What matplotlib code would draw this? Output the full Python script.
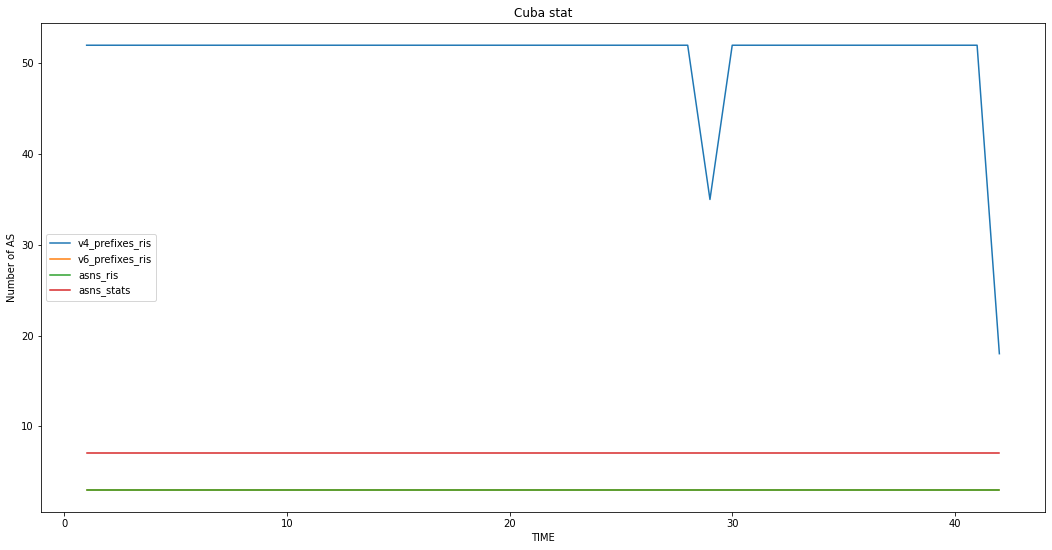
import matplotlib
matplotlib.use('Agg')
import matplotlib.pyplot as plt

# DATA
time = list(range(1, 43))
v4_prefixes_ris = [52] * 28 + [35] + [52] * 12 + [18]
v6_prefixes_ris = [3] * 42
asns_ris = [3] * 42
asns_stats = [7] * 42

# PLOTTING
fig = plt.figure(figsize=(1052 / 72, 550 / 72), dpi=72)
ax = fig.add_axes([41 / 1052, 38 / 550, 1004 / 1052, 489 / 550])

ax.plot(time, v4_prefixes_ris, label='v4_prefixes_ris')
ax.plot(time, v6_prefixes_ris, label='v6_prefixes_ris')
ax.plot(time, asns_ris, label='asns_ris')
ax.plot(time, asns_stats, label='asns_stats')

ax.set_title('Cuba stat')
ax.set_xlabel('TIME')
ax.set_ylabel('Number of AS')
ax.legend(loc='center left')

fig.savefig('out.png', dpi=72)
